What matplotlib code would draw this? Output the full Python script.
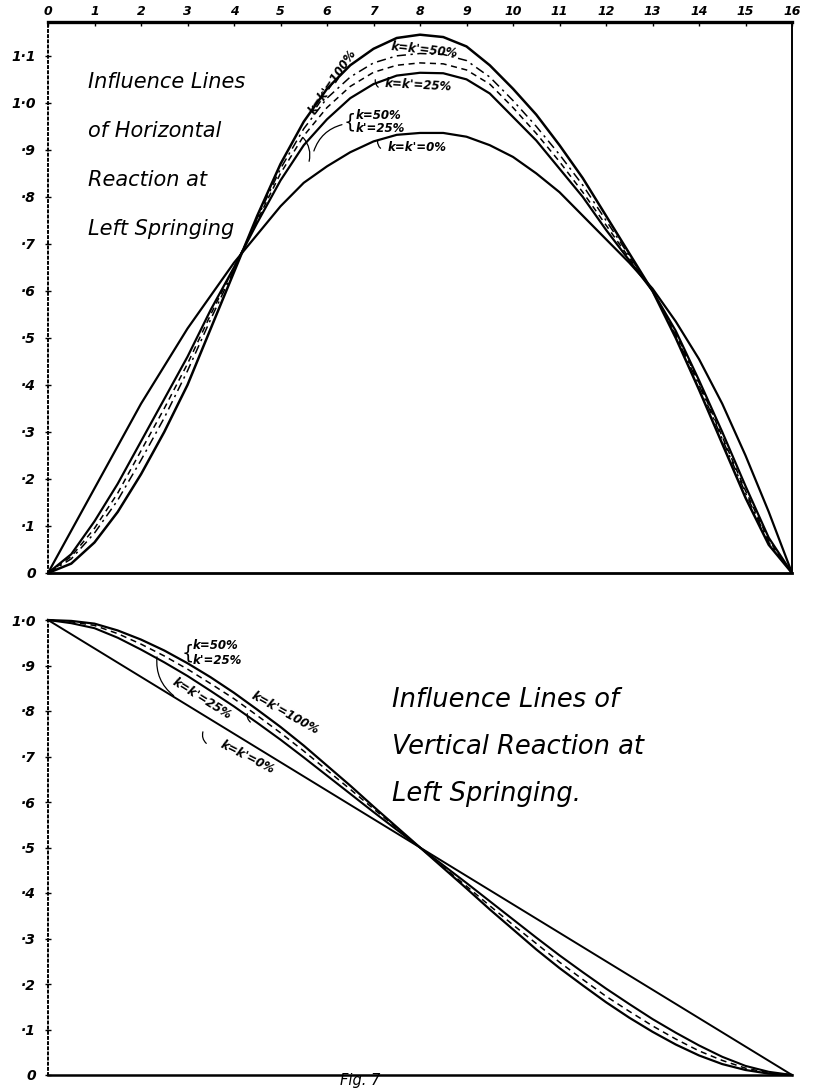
import numpy as np
import matplotlib
matplotlib.use("Agg")
import matplotlib.pyplot as plt

# ---- data ----
x_h = np.arange(0, 16.5, 0.5)
# horizontal reaction influence lines
h_100 = [0, .02, .065, .13, .21, .30, .40, .52, .64, .76, .87, .96, 1.03, 1.08, 1.115, 1.138, 1.145,
         1.14, 1.12, 1.08, 1.03, .975, .91, .84, .76, .68, .60, .50, .39, .275, .16, .06, 0]
h_50 = [0, .03, .085, .155, .24, .33, .43, .54, .645, .755, .86, .945, 1.01, 1.055, 1.085, 1.10, 1.105,
        1.103, 1.09, 1.055, 1.005, .95, .89, .825, .75, .675, .60, .505, .40, .285, .17, .065, 0]
h_50_25 = [0, .035, .095, .17, .26, .35, .445, .55, .65, .75, .85, .93, .99, 1.035, 1.065, 1.08, 1.085,
           1.083, 1.07, 1.04, .99, .935, .875, .81, .74, .67, .60, .51, .405, .29, .175, .07, 0]
h_25 = [0, .04, .11, .19, .28, .37, .46, .56, .65, .745, .835, .91, .965, 1.01, 1.04, 1.058, 1.064,
        1.063, 1.05, 1.02, .97, .92, .86, .80, .73, .665, .60, .515, .41, .30, .185, .075, 0]
h_0 = [0, .09, .18, .27, .36, .44, .52, .59, .66, .72, .78, .83, .865, .895, .918, .932, .936,
       .936, .928, .91, .885, .85, .81, .76, .71, .66, .605, .535, .455, .36, .25, .13, 0]

x_v = np.arange(0, 16.5, 0.5)
# vertical reaction influence lines
v_100 = [1, .998, .992, .977, .957, .933, .905, .874, .84, .803, .765, .724, .68, .636, .59, .545, .5,
         .455, .41, .364, .32, .276, .235, .197, .16, .126, .095, .067, .043, .024, .011, .003, 0]
v_50_25 = [1, .996, .988, .97, .947, .921, .892, .86, .827, .79, .752, .712, .67, .628, .585, .543, .5,
           .457, .415, .372, .33, .289, .248, .21, .173, .14, .108, .079, .053, .032, .015, .005, 0]
v_25 = [1, .993, .982, .961, .935, .907, .877, .844, .81, .774, .737, .698, .658, .618, .578, .539, .5,
        .461, .422, .382, .342, .302, .263, .226, .19, .156, .123, .093, .065, .04, .02, .007, 0]
x_v0 = [0, 16]
v_0 = [1.0, 0.0]

xticks = list(range(17))
h_yticks = [0, .1, .2, .3, .4, .5, .6, .7, .8, .9, 1.0, 1.1]
h_ylabels = ["0", "·1", "·2", "·3", "·4", "·5", "·6", "·7", "·8", "·9", "1·0", "1·1"]
v_yticks = [0, .1, .2, .3, .4, .5, .6, .7, .8, .9, 1.0]
v_ylabels = ["0", "·1", "·2", "·3", "·4", "·5", "·6", "·7", "·8", "·9", "1·0"]

W, H = 814, 1088
fig = plt.figure(figsize=(W / 100, H / 100), dpi=100)
fig.patch.set_facecolor("white")

def fx(px): return px / W
def fy(py): return 1 - py / H

lab = dict(style="italic", fontweight="bold", color="black")
arr = dict(arrowstyle="-", lw=0.9, color="black")

# ---- top panel: horizontal reaction ----
ax1 = fig.add_axes([fx(48), fy(573), (792 - 48) / W, (573 - 22) / H])
ax1.set_xlim(0, 16); ax1.set_ylim(0, 1.172)
ax1.plot(x_h, h_100, color="black", lw=1.8)
ax1.plot(x_h, h_50, color="black", lw=1.1, linestyle=(0, (6, 3, 1.5, 3)))
ax1.plot(x_h, h_50_25, color="black", lw=1.1, linestyle=(0, (4, 3)))
ax1.plot(x_h, h_25, color="black", lw=1.6)
ax1.plot(x_h, h_0, color="black", lw=1.6)

ax1.xaxis.tick_top()
ax1.set_xticks(xticks)
ax1.set_xticklabels([str(t) for t in xticks], fontsize=9, **lab)
ax1.set_yticks(h_yticks)
ax1.set_yticklabels(h_ylabels, fontsize=10, **lab)
ax1.tick_params(axis="x", direction="in", length=3, width=1, pad=3)
ax1.tick_params(axis="y", direction="inout", length=5, width=1, pad=6)
ax1.spines["top"].set_linewidth(2.4)
ax1.spines["bottom"].set_linewidth(2.0)
ax1.spines["right"].set_linewidth(1.4)
ax1.spines["left"].set_linewidth(1.4)
ax1.spines["left"].set_linestyle(":")

for i, s in enumerate(["Influence Lines", "of Horizontal", "Reaction at", "Left Springing"]):
    fig.text(fx(88), fy(82 + 49 * i), s, fontsize=15, style="italic", va="center", ha="left")

ax1.text(8.1, 1.113, "k=k'=50%", fontsize=8.5, rotation=-6, ha="center", va="center", **lab)
ax1.text(7.96, 1.038, "k=k'=25%", fontsize=8.5, rotation=-3, ha="center", va="center", **lab)
ax1.text(6.62, 0.974, "k=50%", fontsize=8.5, ha="left", va="center", **lab)
ax1.text(6.62, 0.945, "k'=25%", fontsize=8.5, ha="left", va="center", **lab)
ax1.text(6.48, 0.96, "{", fontsize=14, ha="center", va="center", color="black")
ax1.text(7.94, 0.906, "k=k'=0%", fontsize=8.5, ha="center", va="center", **lab)
ax1.text(6.13, 1.045, "k=k'=100%", fontsize=8.5, rotation=56, ha="center", va="center", **lab)
ax1.annotate("", xy=(5.7, 0.892), xytext=(6.38, 0.955),
             arrowprops=dict(arr, connectionstyle="arc3,rad=0.3"))
ax1.annotate("", xy=(7.05, 1.055), xytext=(7.15, 1.03),
             arrowprops=dict(arr, connectionstyle="arc3,rad=-0.4"))
ax1.annotate("", xy=(7.1, 0.925), xytext=(7.2, 0.9),
             arrowprops=dict(arr, connectionstyle="arc3,rad=-0.4"))
ax1.annotate("", xy=(5.45, 0.93), xytext=(5.6, 0.87),
             arrowprops=dict(arr, connectionstyle="arc3,rad=0.3"))

# ---- bottom panel: vertical reaction ----
ax2 = fig.add_axes([fx(48), fy(1075), (792 - 48) / W, (1075 - 620) / H])
ax2.set_xlim(0, 16); ax2.set_ylim(0, 1.0)
ax2.plot(x_v, v_100, color="black", lw=1.6, clip_on=False)
ax2.plot(x_v, v_50_25, color="black", lw=1.1, linestyle=(0, (4, 3)), clip_on=False)
ax2.plot(x_v, v_25, color="black", lw=1.5, clip_on=False)
ax2.plot(x_v0, v_0, color="black", lw=1.4, clip_on=False)

ax2.set_xticks([])
ax2.set_yticks(v_yticks)
ax2.set_yticklabels(v_ylabels, fontsize=10, **lab)
ax2.tick_params(axis="y", direction="inout", length=5, width=1, pad=6)
ax2.spines["top"].set_visible(False)
ax2.spines["right"].set_visible(False)
ax2.spines["bottom"].set_linewidth(1.8)
ax2.spines["left"].set_linewidth(1.4)
ax2.spines["left"].set_linestyle(":")

for i, s in enumerate(["Influence Lines of", "Vertical Reaction at", "Left Springing."]):
    fig.text(fx(392), fy(700 + 47 * i), s, fontsize=18.5, style="italic", va="center", ha="left")

ax2.text(3.12, 0.944, "k=50%", fontsize=8.5, ha="left", va="center", **lab)
ax2.text(3.12, 0.912, "k'=25%", fontsize=8.5, ha="left", va="center", **lab)
ax2.text(3.0, 0.928, "{", fontsize=14, ha="center", va="center", color="black")
ax2.text(3.31, 0.827, "k=k'=25%", fontsize=8.5, rotation=-32, ha="center", va="center", **lab)
ax2.text(5.1, 0.795, "k=k'=100%", fontsize=8.5, rotation=-29, ha="center", va="center", **lab)
ax2.text(4.28, 0.698, "k=k'=0%", fontsize=8.5, rotation=-27, ha="center", va="center", **lab)
ax2.annotate("", xy=(2.35, 0.925), xytext=(2.75, 0.83),
             arrowprops=dict(arr, connectionstyle="arc3,rad=-0.3"))
ax2.annotate("", xy=(3.35, 0.76), xytext=(3.45, 0.725),
             arrowprops=dict(arr, connectionstyle="arc3,rad=-0.4"))
ax2.annotate("", xy=(4.4, 0.772), xytext=(4.3, 0.8),
             arrowprops=dict(arr, connectionstyle="arc3,rad=0.4"))

fig.text(fx(340), fy(1085.5), "Fig. 7", fontsize=10.5, style="italic", va="baseline", ha="left")

fig.savefig("out.png", dpi=100, facecolor="white")
